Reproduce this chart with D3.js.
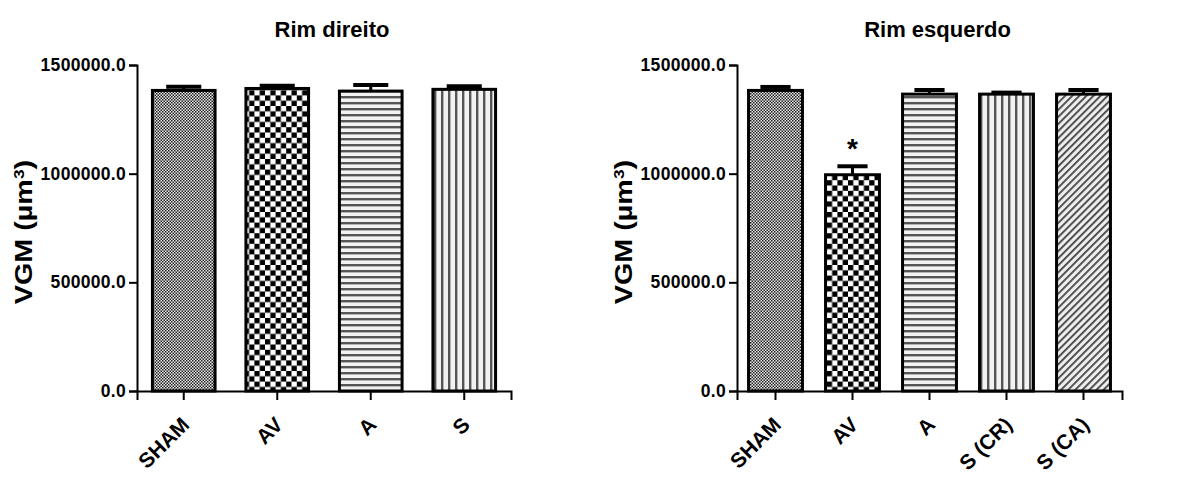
<!DOCTYPE html>
<html>
<head>
<meta charset="utf-8">
<script src="https://cdn.jsdelivr.net/npm/d3@7"></script>
<style>
  html, body { margin: 0; padding: 0; background: #fff; }
  svg text { font-family: "Liberation Sans", Arial, sans-serif; font-weight: bold; fill: #000; }
</style>
</head>
<body>
<svg id="chart" width="1187" height="478"></svg>
<script>
// ---- dados (VGM, média + EPM) ----
const yTicks = [0, 500000, 1000000, 1500000];

const leftTitle = 'Rim direito';
const leftGroups = ['SHAM', 'AV', 'A', 'S'];
const leftMeans  = [1383000, 1392000, 1380000, 1388000];
const leftErr    = [17000, 12000, 28000, 14000];
const leftFills  = ['fine', 'check', 'hlines', 'vlines'];

const rightTitle = 'Rim esquerdo';
const rightGroups = ['SHAM', 'AV', 'A', 'S (CR)', 'S (CA)'];
const rightMeans  = [1383000, 995000, 1366000, 1366000, 1366000];
const rightErr    = [16000, 39000, 19000, 7000, 19000];
const rightFills  = ['fine', 'check', 'hlines', 'vlines', 'diag'];
const rightSig    = ['', '*', '', '', ''];

const svg = d3.select('#chart');

// padrões de preenchimento (estilo Prism)
const defs = svg.append('defs');
function pat(id, w, h) {
  return defs.append('pattern').attr('id', id)
    .attr('patternUnits', 'userSpaceOnUse').attr('width', w).attr('height', h);
}
let p = pat('fine', 3, 3);
p.append('rect').attr('width', 3).attr('height', 3).attr('fill', '#e8e8e8');
p.append('rect').attr('width', 1.5).attr('height', 1.5).attr('fill', '#222');
p.append('rect').attr('x', 1.5).attr('y', 1.5).attr('width', 1.5).attr('height', 1.5).attr('fill', '#222');

p = pat('check', 10.6, 10.6);
p.append('rect').attr('width', 10.6).attr('height', 10.6).attr('fill', '#fff');
p.append('rect').attr('width', 5.3).attr('height', 5.3).attr('fill', '#000');
p.append('rect').attr('x', 5.3).attr('y', 5.3).attr('width', 5.3).attr('height', 5.3).attr('fill', '#000');

p = pat('hlines', 6, 6);
p.append('rect').attr('width', 6).attr('height', 6).attr('fill', '#f2f2f2');
p.append('rect').attr('y', 0).attr('width', 6).attr('height', 2.4).attr('fill', '#555');

p = pat('vlines', 7, 7);
p.append('rect').attr('width', 7).attr('height', 7).attr('fill', '#f2f2f2');
p.append('rect').attr('x', 0).attr('width', 2.4).attr('height', 7).attr('fill', '#555');

p = pat('diag', 5, 5).attr('patternTransform', 'rotate(-45)');
p.append('rect').attr('width', 5).attr('height', 5).attr('fill', '#eee');
p.append('rect').attr('width', 5).attr('height', 1.8).attr('fill', '#444');

function panel(opt) {
  const y = d3.scaleLinear().domain([0, 1500000]).range([391, 65]);
  const x = d3.scaleBand().domain(opt.groups).range(opt.xr)
    .paddingInner(opt.pad).paddingOuter(opt.pad / 2);
  const g = svg.append('g');

  // barras
  g.selectAll('rect.bar').data(opt.groups).join('rect')
    .attr('class', 'bar')
    .attr('x', d => x(d))
    .attr('width', x.bandwidth())
    .attr('y', (d, i) => y(opt.means[i]))
    .attr('height', (d, i) => y(0) - y(opt.means[i]))
    .attr('fill', (d, i) => `url(#${opt.fills[i]})`)
    .attr('stroke', '#000').attr('stroke-width', 3);

  // barras de erro (só para cima)
  const eb = g.selectAll('g.err').data(opt.groups).join('g').attr('class', 'err');
  eb.append('line')
    .attr('x1', d => x(d) + x.bandwidth() / 2).attr('x2', d => x(d) + x.bandwidth() / 2)
    .attr('y1', (d, i) => y(opt.means[i])).attr('y2', (d, i) => y(opt.means[i] + opt.err[i]))
    .attr('stroke', '#000').attr('stroke-width', 3);
  eb.append('line')
    .attr('x1', d => x(d) + x.bandwidth() * 0.22).attr('x2', d => x(d) + x.bandwidth() * 0.78)
    .attr('y1', (d, i) => y(opt.means[i] + opt.err[i])).attr('y2', (d, i) => y(opt.means[i] + opt.err[i]))
    .attr('stroke', '#000').attr('stroke-width', 4);

  if (opt.sig) {
    g.selectAll('text.sig').data(opt.groups).join('text')
      .attr('class', 'sig')
      .attr('x', d => x(d) + x.bandwidth() / 2)
      .attr('y', (d, i) => y(opt.means[i] + opt.err[i]) - 8)
      .attr('text-anchor', 'middle').attr('font-size', 28)
      .text((d, i) => opt.sig[i]);
  }

  // eixo y
  const ya = g.append('g').attr('transform', `translate(${opt.xr[0]},0)`)
    .call(d3.axisLeft(y).tickValues(yTicks).tickFormat(d3.format('.1f')).tickSizeOuter(0).tickSize(8).tickPadding(3));
  ya.selectAll('text').attr('font-size', 17.5).attr('letter-spacing', 0.3);

  // eixo x
  const xa = g.append('g').attr('transform', `translate(0,${y(0)})`)
    .call(d3.axisBottom(x).tickSizeOuter(0).tickSize(9));
  xa.selectAll('text')
    .attr('font-size', 21).attr('text-anchor', 'end')
    .attr('transform', 'translate(7,35) rotate(-45)')
    .attr('dy', 0).attr('y', 0);

  g.selectAll('.domain, .tick line').attr('stroke', '#000').attr('stroke-width', 2);

  // títulos
  g.append('text')
    .attr('x', (opt.xr[0] + opt.xr[1]) / 2 + 8).attr('y', 37)
    .attr('text-anchor', 'middle').attr('font-size', 22)
    .text(opt.title);

  const yl = g.append('text')
    .attr('transform', `translate(${opt.xr[0] - 105},232) rotate(-90) scale(1.25,1)`)
    .attr('text-anchor', 'middle').attr('font-size', 23);
  yl.append('tspan').text('VGM (µm');
  yl.append('tspan').attr('dy', -8).attr('font-size', 14).text('3');
  yl.append('tspan').attr('dy', 8).text(')');
}

panel({ title: leftTitle, groups: leftGroups, means: leftMeans, err: leftErr,
        fills: leftFills, xr: [137, 511], pad: 0.33 });
panel({ title: rightTitle, groups: rightGroups, means: rightMeans, err: rightErr,
        fills: rightFills, xr: [737, 1122], pad: 0.3, sig: rightSig });
</script>
</body>
</html>
